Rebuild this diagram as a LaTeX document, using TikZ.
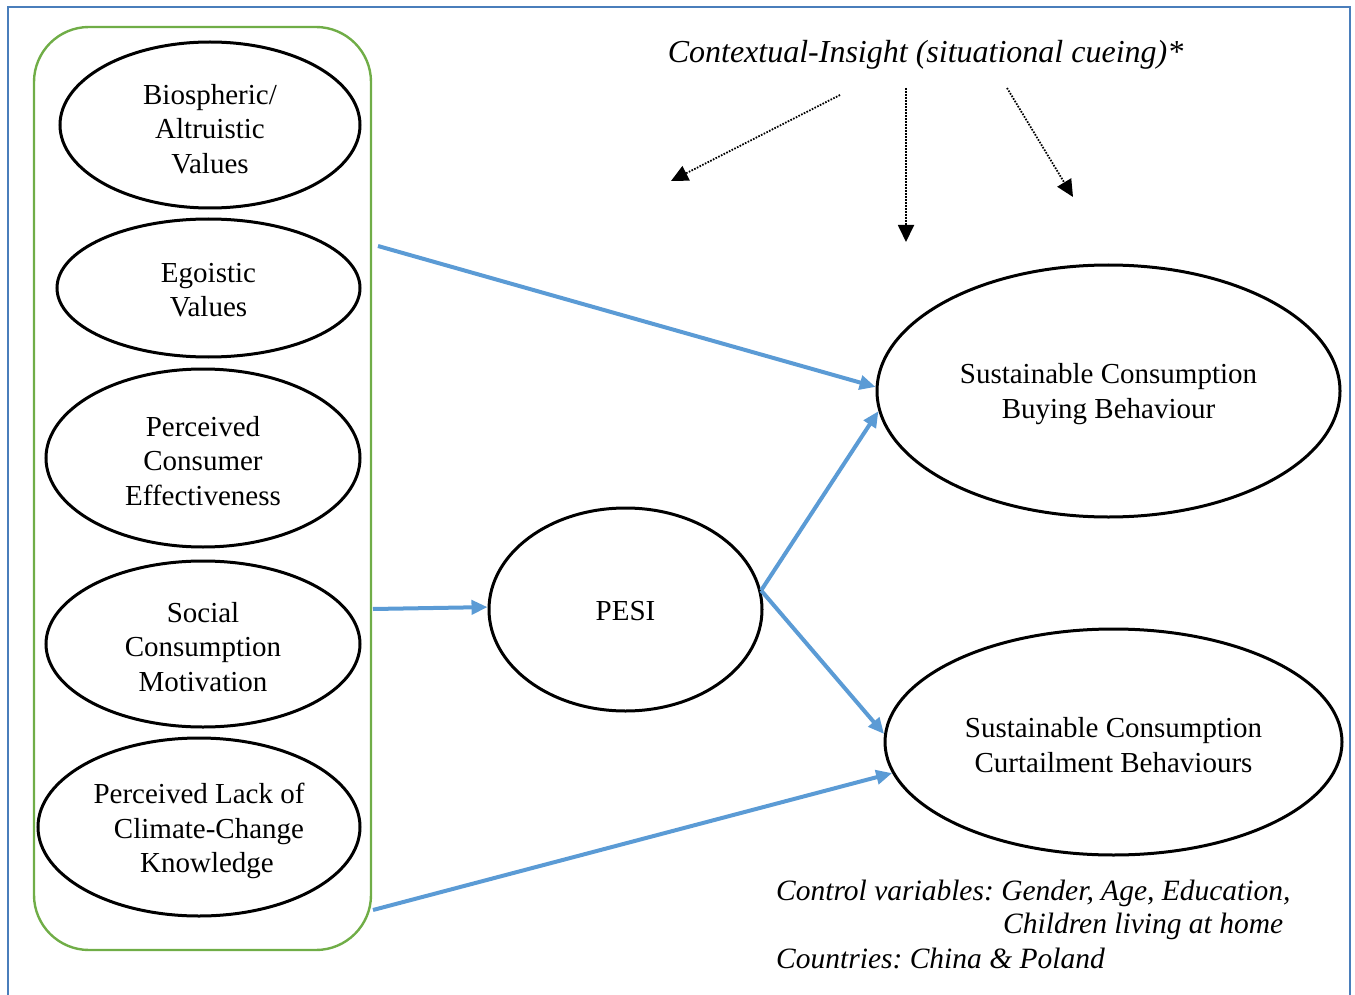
\documentclass[tikz,border=0pt]{standalone}
\usepackage{fontspec}
\setmainfont{Liberation Serif}
\usetikzlibrary{shapes.geometric,arrows.meta}
\definecolor{frameblue}{HTML}{4A7EBB}
\definecolor{arrowblue}{HTML}{5B9BD5}
\definecolor{boxgreen}{HTML}{70AD47}
\tikzset{
  ell/.style={ellipse,draw=black,line width=3pt,inner sep=0pt},
  elltext/.style={inner sep=0pt,align=center,font=\fontsize{29}{34.3}\selectfont},
  bluearrow/.style={draw=arrowblue,line width=4pt,-{Triangle[length=16pt,width=14pt]}},
  dotarrow/.style={draw=black,line width=1.8pt,dash pattern=on 1.6pt off 1.4pt,-{Triangle[length=17pt,width=16pt]}},
  ittext/.style={font=\fontsize{29.5}{34.5}\selectfont\itshape,inner sep=0pt}
}
\frenchspacing
\begin{document}
\begin{tikzpicture}[x=1pt,y=-1pt]
\useasboundingbox (0,0) rectangle (1355,995);
% outer frame (open at bottom)
\draw[frameblue,line width=2.2pt] (8,1000) -- (8,7) -- (1350,7) -- (1350,1000);
% green group box
\node[draw=boxgreen,line width=2.4pt,rounded corners=55pt,minimum width=337pt,minimum height=923pt,inner sep=0pt] (grp) at (202.5,488.5) {};
% left ellipses
\node[ell,minimum width=300pt,minimum height=166pt] (bio) at (210,125) {};
\node[ell,minimum width=303pt,minimum height=138pt] (ego) at (208.5,288) {};
\node[ell,minimum width=314pt,minimum height=178pt] (pce) at (203,458) {};
\node[ell,minimum width=314pt,minimum height=166pt] (scm) at (203,644) {};
\node[ell,minimum width=322pt,minimum height=178pt] (plk) at (199,827) {};
\node[elltext] (biot) at ([yshift=-4pt]bio.center) {Biospheric/\\Altruistic\\Values};
\node[elltext] (egot) at ([yshift=-2pt]ego.center) {Egoistic\\Values};
\node[elltext] (pcet) at ([yshift=-3pt]pce.center) {Perceived\\Consumer\\Effectiveness};
\node[elltext] (scmt) at ([yshift=-3pt]scm.center) {Social\\Consumption\\Motivation};
\node[elltext] (plkt) at ([yshift=-4pt]plk.center) {Perceived Lack of\\\hspace*{20pt}Climate-Change\\\hspace*{16pt}Knowledge};
% middle and right
\node[ell,minimum width=273pt,minimum height=203pt] (pesi) at (625.5,609.5) {};
\node[ell,minimum width=463pt,minimum height=252pt] (buy) at (1108.5,391) {};
\node[ell,minimum width=457pt,minimum height=226pt] (cur) at (1113.5,742) {};
\node[elltext] (pesit) at ([yshift=-2pt]pesi.center) {PESI};
\node[elltext] (buyt) at ([yshift=-3pt]buy.center) {Sustainable Consumption\\Buying Behaviour};
\node[elltext] (curt) at ([yshift=-3pt]cur.center) {Sustainable Consumption\\Curtailment Behaviours};
% blue arrow start points on the green box
\coordinate (g1) at (378,246);
\coordinate (g2) at (373,609);
\coordinate (g3) at (373,910);
\draw[bluearrow] (g1) -- (buy.179);
\draw[bluearrow] (g2) -- (pesi.179);
\draw[bluearrow] (pesi.8) -- (buy.185);
\draw[bluearrow] (pesi.8) -- (cur.178.5);
\draw[bluearrow] (g3) -- (cur.188.5);
% contextual insight
\node[ittext,font=\fontsize{32}{37}\selectfont\itshape,anchor=base] (ctx) at (925.5,63) {Contextual-Insight (situational cueing)*};
\coordinate (d1s) at (840,95);
\coordinate (d1e) at (671,181);
\coordinate (d2s) at (906,88);
\coordinate (d2e) at (906,242);
\coordinate (d3s) at (1007,88);
\coordinate (d3e) at (1073,197);
\draw[dotarrow] (d1s) -- (d1e);
\draw[dotarrow] (d2s) -- (d2e);
\draw[dotarrow] (d3s) -- (d3e);
% control variables
\node[ittext,anchor=base west] (cv1) at (776,900) {Control variables: Gender, Age, Education,};
\node[ittext,anchor=base west] (cv2) at (1003,933) {Children living at home};
\node[ittext,anchor=base west] (cv3) at (776,968) {Countries: China \& Poland};
\end{tikzpicture}
\end{document}
